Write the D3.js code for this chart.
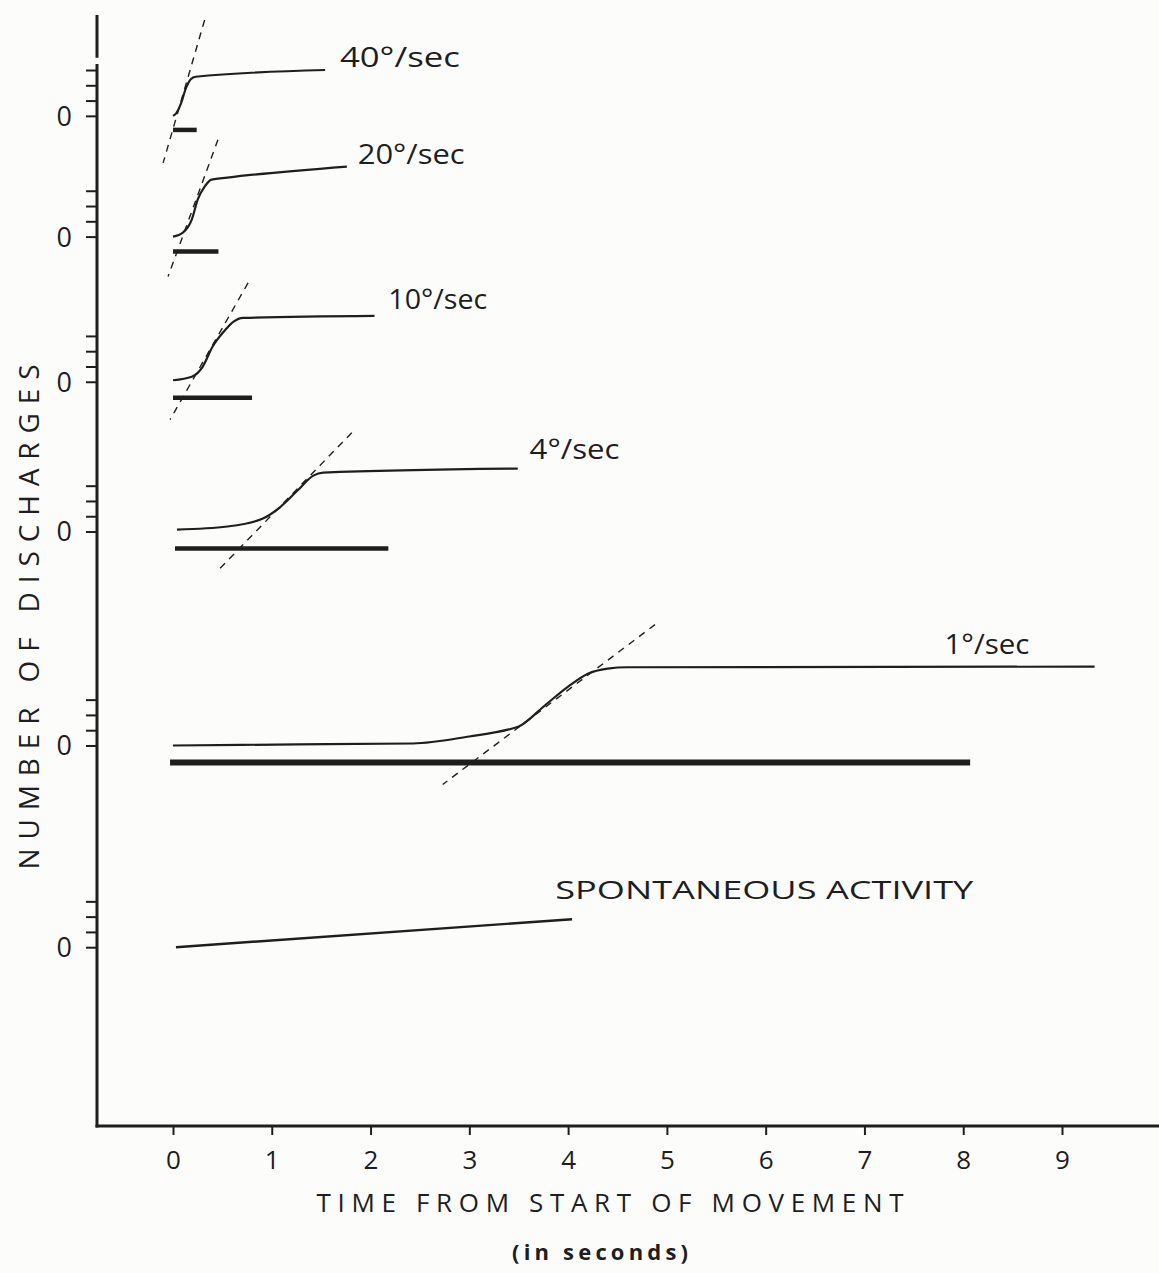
<!DOCTYPE html>
<html><head><meta charset="utf-8">
<script src="https://cdn.jsdelivr.net/npm/d3@7"></script>
<style>
html,body{margin:0;padding:0;background:#fcfcfb;}
svg{display:block;}
text{font-family:"Open Sans","DejaVu Sans",sans-serif;fill:#1e1e1e;}
</style></head>
<body>
<svg id="c" width="1159" height="1273"></svg>
<script>
// ---- data ----
const xTickValues = [0,1,2,3,4,5,6,7,8,9];
const yTickValues = [0,1,2,3];
const seriesNames = ["40°/sec","20°/sec","10°/sec","4°/sec","1°/sec","SPONTANEOUS ACTIVITY"];
// zero level of each record, in discharge units above the time axis
const panelBase = [66.1, 58.2, 48.7, 38.9, 24.9, 11.7];
// traced records: [seconds, discharges (tick units)]
const curve40 = [[0,0],[0.03,0.15],[0.08,0.8],[0.13,1.8],[0.18,2.4],[0.23,2.56],[1.54,3.0]];
const curve20 = [[0,0],[0.10,0.26],[0.19,1.11],[0.25,2.42],[0.32,3.27],[0.39,3.73],[0.55,3.86],[1.76,4.58]];
const curve10 = [[0,0.1],[0.19,0.33],[0.30,0.98],[0.40,2.29],[0.53,3.40],[0.61,3.92],[0.71,4.18],[2.04,4.31]];
const curve4  = [[0.04,0.13],[0.55,0.33],[0.91,0.85],[1.08,1.57],[1.26,2.68],[1.42,3.66],[1.52,3.86],[3.49,4.12]];
const curve1  = [[0,0],[1.26,0.07],[2.43,0.13],[3.0,0.59],[3.40,1.05],[3.50,1.24],[3.77,2.65],[4.0,3.85],[4.2,4.7],[4.4,5.03],[4.6,5.12],[9.33,5.16]];
const curveSpont = [[0.03,0],[4.04,1.83]];
const curves = [curve40, curve20, curve10, curve4, curve1, curveSpont];
// dashed tangent lines: [[t1,v1],[t2,v2]]
const tangents = [
  [[0.32,6.27],[-0.10,-3.08]],
  [[0.455,6.34],[-0.05,-2.61]],
  [[0.76,6.47],[-0.03,-2.48]],
  [[1.81,6.47],[0.455,-2.55]],
  [[4.88,7.91],[2.73,-2.55]]
];
// movement duration bars: [start s, end s, level]
const moveBars = [[0,0.24,-0.92],[0,0.46,-0.98],[0,0.80,-1.05],[0.02,2.18,-1.11],[-0.03,8.07,-1.11]];

// ---- layout ----
const svg = d3.select("#c");
const ink = "#1e1e1e";
const x = d3.scaleLinear().domain([0,9]).range([173,1062]);
const y = d3.scaleLinear().domain([0,72.7]).range([1126,15]);
const axisX = 97;

// axes
svg.append("line").attr("x1",axisX).attr("x2",axisX).attr("y1",y(72.7)).attr("y2",y(69.9))
  .attr("stroke",ink).attr("stroke-width",3);
svg.append("line").attr("x1",axisX).attr("x2",axisX).attr("y1",y(69.5)).attr("y2",y(0)+1.5)
  .attr("stroke",ink).attr("stroke-width",3);
svg.append("line").attr("x1",axisX-1.5).attr("x2",1159).attr("y1",y(0)).attr("y2",y(0))
  .attr("stroke",ink).attr("stroke-width",3.2);

// x ticks via d3 axis
const gx = svg.append("g").attr("transform",`translate(0,${y(0)})`)
  .call(d3.axisBottom(x).tickValues(xTickValues).tickSize(9).tickFormat(d3.format("d")));
gx.select(".domain").remove();
gx.selectAll(".tick line").attr("stroke",ink).attr("stroke-width",2);
gx.selectAll(".tick text").attr("dy","1.2em").style("font-size","26px")
  .style("font-family","'Open Sans',sans-serif").attr("fill",ink);

// per-panel y ticks
panelBase.forEach((b,i)=>{
  const ys = d3.scaleLinear().domain([0,1]).range([y(b), y(b+1)]);
  const g = svg.append("g").attr("transform",`translate(${axisX},0)`)
    .call(d3.axisLeft(ys).tickValues(yTickValues).tickSize(11).tickFormat(d=> d===0 ? "0" : ""));
  g.select(".domain").remove();
  g.selectAll(".tick line").attr("stroke",ink).attr("stroke-width",2);
  g.selectAll(".tick text").attr("x",-25).attr("dy","0.35em").style("font-size","27px")
    .style("font-family","'Open Sans',sans-serif").attr("fill",ink);
});

// helper
const yv = (i,v)=> y(panelBase[i]+v);
const line = (i)=> d3.line().x(d=>x(d[0])).y(d=>yv(i,d[1])).curve(d3.curveMonotoneX);

// tangents
tangents.forEach((t,i)=>{
  svg.append("line").attr("x1",x(t[0][0])).attr("y1",yv(i,t[0][1]))
    .attr("x2",x(t[1][0])).attr("y2",yv(i,t[1][1]))
    .attr("stroke",ink).attr("stroke-width",1.4).attr("stroke-dasharray","7,6");
});

// curves
curves.forEach((c,i)=>{
  svg.append("path").attr("d",line(i)(c)).attr("fill","none")
    .attr("stroke",ink).attr("stroke-width", i===5 ? 2.4 : 2.2);
});

// bars
moveBars.forEach((b,i)=>{
  svg.append("line").attr("x1",x(b[0])).attr("x2",x(b[1]))
    .attr("y1",yv(i,b[2])).attr("y2",yv(i,b[2]))
    .attr("stroke",ink).attr("stroke-width", i===4 ? 6 : 4.5);
});

// series labels: [time, level, text width]
const labelPos = [[1.69,3.86,120],[1.87,5.37,107],[2.18,5.37,99],[3.61,5.37,90],[7.81,6.61,85],[3.87,3.73,418]];
seriesNames.forEach((n,i)=>{
  const p = labelPos[i];
  svg.append("text").attr("x",x(p[0])).attr("y",yv(i,p[1]))
    .attr("dy","0.36em").attr("textLength",p[2]).attr("lengthAdjust","spacingAndGlyphs")
    .style("font-size", i===5 ? "25px" : "27px").text(n);
});

// axis titles
svg.append("text").attr("x",610).attr("y",1203).attr("dy","0.36em").attr("text-anchor","middle")
  .attr("textLength",587).attr("lengthAdjust","spacing").style("font-size","26px")
  .text("TIME FROM START OF MOVEMENT");
svg.append("text").attr("x",600).attr("y",1252).attr("dy","0.36em").attr("text-anchor","middle")
  .attr("textLength",176).attr("lengthAdjust","spacing").style("font-size","22px").style("font-weight","bold")
  .text("(in seconds)");
svg.append("text").attr("transform","translate(29,617) rotate(-90)").attr("dy","0.36em")
  .attr("text-anchor","middle").attr("textLength",505).attr("lengthAdjust","spacing")
  .style("font-size","28px").text("NUMBER OF DISCHARGES");
</script>
</body></html>
